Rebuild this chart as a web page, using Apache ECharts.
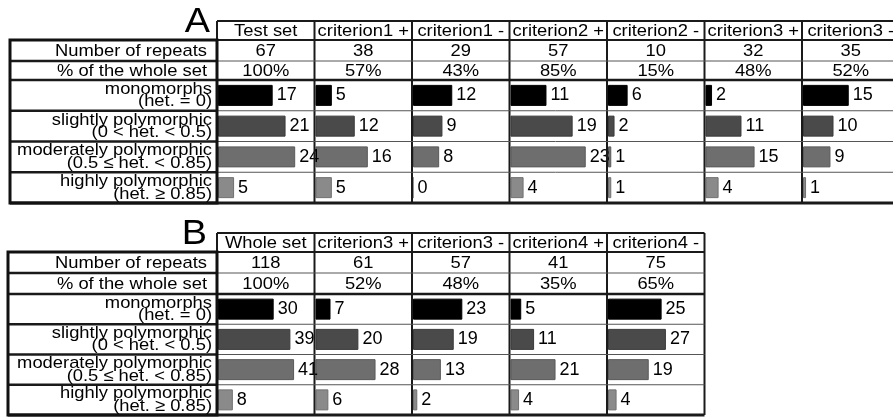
<!DOCTYPE html>
<html>
<head>
<meta charset="utf-8">
<script src="https://cdn.jsdelivr.net/npm/echarts@6/dist/echarts.min.js"></script>
<style>
  html, body { margin: 0; padding: 0; background: #fff; }
  #main { width: 893px; height: 417px; }
</style>
</head>
<body>
<div id="main"></div>
<script>
// panel A
const columnsA = ['Test set', 'criterion1 +', 'criterion1 -', 'criterion2 +', 'criterion2 -', 'criterion3 +', 'criterion3 -'];
const repeatsA = [67, 38, 29, 57, 10, 32, 35];
const percentA = ['100%', '57%', '43%', '85%', '15%', '48%', '52%'];
const monoA = [17, 5, 12, 11, 6, 2, 15];
const slightA = [21, 12, 9, 19, 2, 11, 10];
const moderateA = [24, 16, 8, 23, 1, 15, 9];
const highA = [5, 5, 0, 4, 1, 4, 1];

// panel B
const columnsB = ['Whole set', 'criterion3 +', 'criterion3 -', 'criterion4 +', 'criterion4 -'];
const repeatsB = [118, 61, 57, 41, 75];
const percentB = ['100%', '52%', '48%', '35%', '65%'];
const monoB = [30, 7, 23, 5, 25];
const slightB = [39, 20, 19, 11, 27];
const moderateB = [41, 28, 13, 21, 19];
const highB = [8, 6, 2, 4, 4];

const rowLabels = [
  'monomorphs\n(het. = 0)',
  'slightly polymorphic\n(0 < het. < 0.5)',
  'moderately polymorphic\n(0.5 ≤ het. < 0.85)',
  'highly polymorphic\n(het. ≥ 0.85)'
];
const barColors = ['#000000', '#4a4a4a', '#6e6e6e', '#8a8a8a'];
const barBorders = ['#000000', '#3a3a3a', '#5a5a5a', '#707070'];

const FONT = '17px "Liberation Sans", Arial, sans-serif';
const STRETCH = 1.08; // the original text is a bit wider than Arial
const colX0 = 217;
const colW = 97.5;

const panels = [
  { letter: 'A', letterX: 210, letterY: 22, labelLeft: 10,
    yHead: 21, yNum: 40, yPct: 61, yBars: 80, yEnd: 203,
    columns: columnsA, repeats: repeatsA, percent: percentA,
    rows: [monoA, slightA, moderateA, highA],
    axisMax: [30, 29.5, 29.5, 29.5, 29.5, 29.5, 29.5] },
  { letter: 'B', letterX: 207, letterY: 234, labelLeft: 8,
    yHead: 233, yNum: 252, yPct: 273, yBars: 294, yEnd: 415,
    columns: columnsB, repeats: repeatsB, percent: percentB,
    rows: [monoB, slightB, moderateB, highB],
    axisMax: [52, 45, 45, 45, 45] }
];

const grids = [], xAxes = [], yAxes = [], series = [], graphics = [];

function line(x1, y1, x2, y2, w, c) {
  graphics.push({ type: 'line', silent: true, z: 10,
    shape: { x1: x1, y1: y1, x2: x2, y2: y2 },
    style: { stroke: c || '#1a1a1a', lineWidth: w } });
}
function text(t, x, y, align, font, lh) {
  graphics.push({ type: 'text', silent: true, z: 11, x: x, y: y, scaleX: STRETCH,
    style: { text: t, fill: '#000', font: font || FONT, align: align,
      verticalAlign: 'middle', lineHeight: lh } });
}

panels.forEach(function (p) {
  const n = p.columns.length;
  const right = colX0 + n * colW;
  const rowH = (p.yEnd - p.yBars) / 4;

  // letter
  text(p.letter, p.letterX, p.letterY, 'right', '35px "Liberation Sans", Arial, sans-serif');

  // header + column lines
  line(colX0, p.yHead, right, p.yHead, 2);
  for (let i = 0; i <= n; i++) {
    const x = colX0 + i * colW;
    line(x, p.yHead, x, p.yEnd, 2);
  }
  // horizontal lines
  line(p.labelLeft, p.yNum, right, p.yNum, 2);
  line(p.labelLeft, p.yPct, colX0, p.yPct, 2.5);
  line(colX0, p.yPct, right, p.yPct, 1, '#555');
  line(p.labelLeft, p.yBars, right, p.yBars, 2.5);
  for (let r = 1; r < 4; r++) {
    const y = p.yBars + r * rowH;
    line(p.labelLeft, y, colX0, y, 2.5);
    line(colX0, y, right, y, 1, '#555');
  }
  line(p.labelLeft, p.yEnd, right, p.yEnd, 3);
  graphics.push({ type: 'rect', silent: true, z: 10,
    shape: { x: p.labelLeft, y: p.yNum, width: colX0 - p.labelLeft, height: p.yEnd - p.yNum },
    style: { fill: 'none', stroke: '#111', lineWidth: 3 } });

  // left labels
  text('Number of repeats', colX0 - 10, (p.yNum + p.yPct) / 2 + 1, 'right');
  text('% of the whole set', colX0 - 10, (p.yPct + p.yBars) / 2 + 1, 'right');
  rowLabels.forEach(function (lab, r) {
    text(lab, colX0 - 5, p.yBars + r * rowH + rowH / 2, 'right', FONT, 12.5);
  });

  // column texts and bar grids
  p.columns.forEach(function (name, i) {
    const cx = colX0 + i * colW + colW / 2;
    text(name, cx, (p.yHead + p.yNum) / 2 + 1, 'center');
    text(String(p.repeats[i]), cx, (p.yNum + p.yPct) / 2 + 1, 'center');
    text(p.percent[i], cx, (p.yPct + p.yBars) / 2 + 1, 'center');

    const idx = grids.length;
    grids.push({ left: colX0 + i * colW + 1, top: p.yBars, width: colW - 1, height: p.yEnd - p.yBars });
    xAxes.push({ type: 'value', gridIndex: idx, min: 0, max: p.axisMax[i], show: false });
    yAxes.push({ type: 'category', gridIndex: idx, inverse: true, show: false,
      data: ['mono', 'slight', 'moderate', 'high'] });
    series.push({
      type: 'bar', xAxisIndex: idx, yAxisIndex: idx, barWidth: 21,
      data: p.rows.map(function (vals, r) {
        return { value: vals[i], itemStyle: { color: barColors[r], borderColor: barBorders[r], borderWidth: 1 } };
      }),
      label: { show: true, position: 'right', distance: 4, color: '#000',
        fontSize: 18, fontFamily: '"Liberation Sans", Arial, sans-serif' }
    });
  });
});

const chart = echarts.init(document.getElementById('main'));
chart.setOption({
  animation: false,
  backgroundColor: '#fff',
  grid: grids,
  xAxis: xAxes,
  yAxis: yAxes,
  series: series,
  graphic: graphics
});
</script>
</body>
</html>
